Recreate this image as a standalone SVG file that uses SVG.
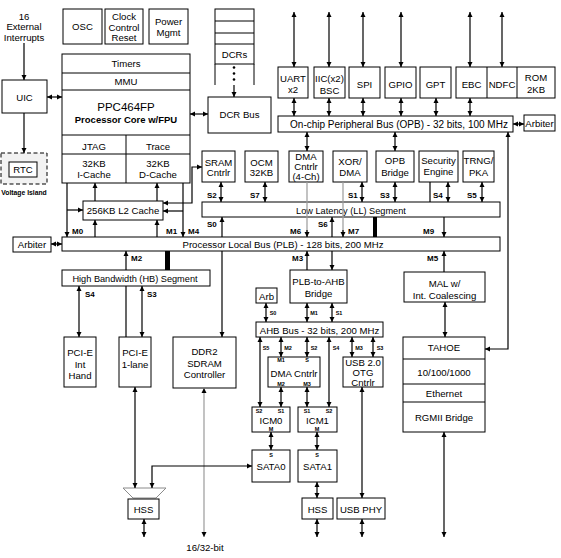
<svg xmlns="http://www.w3.org/2000/svg" width="561" height="558" viewBox="0 0 561 558">
<defs>
<marker id="a" viewBox="0 0 10 10" refX="10" refY="5" markerWidth="5" markerHeight="5.5" orient="auto-start-reverse" markerUnits="userSpaceOnUse"><path d="M0,0L10,5L0,10z" fill="#000"/></marker>
<style>
.b{fill:#fff;stroke:#000;stroke-width:1}
.n{fill:none;stroke:#000;stroke-width:1}
text{font-family:"Liberation Sans",Arial,sans-serif;fill:#000}
.t{font-size:9.6px;text-anchor:middle}
.lb{font-size:8px;font-weight:bold}
.sm{font-size:5.5px;font-weight:bold;text-anchor:middle}
.c{stroke:#000;stroke-width:1.2;fill:none}
.e{marker-end:url(#a)}
.d{marker-start:url(#a);marker-end:url(#a)}
.g{stroke:#9a9a9a;stroke-width:1.2;fill:none}
</style>
</defs>
<rect width="561" height="558" fill="#fff"/>

<g id="ext-int"><text class="t" x="24" y="19.5">16</text><text class="t" x="24" y="30">External</text><text class="t" x="24" y="40.5">Interrupts</text></g>
<g id="osc"><rect class="b" x="63" y="9" width="39" height="35"/><text class="t" x="82.5" y="30">OSC</text></g>
<g id="ccr"><rect class="b" x="105" y="9" width="38" height="35"/><text class="t" x="124" y="19.5">Clock</text><text class="t" x="124" y="30.5">Control</text><text class="t" x="124" y="41">Reset</text></g>
<g id="pwr"><rect class="b" x="149" y="9" width="39" height="35"/><text class="t" x="168.5" y="24.5">Power</text><text class="t" x="168.5" y="36">Mgmt</text></g>

<g id="cpu">
<rect class="b" x="62" y="54" width="128" height="129"/>
<path class="n" d="M62,73H190M62,90H190M62,135H190M62,154H190M126,135V183"/>
<text class="t" x="126" y="66.5">Timers</text>
<text class="t" x="126" y="84.5">MMU</text>
<text class="t" x="126" y="111" style="font-size:11.5px">PPC464FP</text>
<text class="t" x="126" y="122.5" style="font-weight:bold;font-size:9.5px">Processor Core w/FPU</text>
<text class="t" x="94" y="149.5">JTAG</text><text class="t" x="158" y="149.5">Trace</text>
<text class="t" x="94" y="166.5">32KB</text><text class="t" x="94" y="178">I-Cache</text>
<text class="t" x="158" y="166.5">32KB</text><text class="t" x="158" y="178">D-Cache</text>
</g>

<g id="uic"><rect class="b" x="2" y="80" width="45" height="33"/><text class="t" x="24.5" y="100.5">UIC</text></g>
<g id="rtc"><rect x="1" y="153" width="46" height="31" fill="#f2f2f2" stroke="#000" stroke-width="1" stroke-dasharray="4,2.5"/><rect class="b" x="9" y="162" width="28" height="15"/><text class="t" x="23" y="173">RTC</text><text x="24" y="195" style="font-size:6.8px;font-weight:bold;text-anchor:middle">Voltage Island</text></g>
<g id="l2"><rect class="b" x="83" y="201" width="80" height="19"/><text class="t" x="123" y="214">256KB L2 Cache</text></g>
<g id="arbiter-plb"><rect class="b" x="13" y="237" width="38" height="15"/><text class="t" x="32" y="248">Arbiter</text></g>
<g id="plb"><rect class="b" x="62" y="237" width="438" height="14"/><text class="t" x="283" y="247.5">Processor Local Bus (PLB) - 128 bits, 200 MHz</text></g>
<g id="hb"><rect class="b" x="62" y="270" width="148" height="16"/><text class="t" x="135" y="281.5" style="font-size:9.2px">High Bandwidth (HB) Segment</text></g>
<g id="pcie-int"><rect class="b" x="64" y="337" width="32" height="50"/><text class="t" x="80" y="355.5">PCI-E</text><text class="t" x="80" y="367.5">Int</text><text class="t" x="80" y="378.5">Hand</text></g>
<g id="pcie-1"><rect class="b" x="119" y="337" width="32" height="50"/><text class="t" x="135" y="355.5">PCI-E</text><text class="t" x="135" y="367.5">1-lane</text></g>
<g id="ddr2"><rect class="b" x="173" y="337" width="63" height="51"/><text class="t" x="204.5" y="354.5">DDR2</text><text class="t" x="204.5" y="366.5">SDRAM</text><text class="t" x="204.5" y="377.5">Controller</text></g>
<g id="mux"><polygon points="123,488 166,488 156,498 133,498" fill="#fff" stroke="#8a8a8a" stroke-width="1"/></g>
<g id="hss1"><rect class="b" x="128" y="499" width="31" height="20"/><text class="t" x="143.5" y="513">HSS</text></g>
<g id="ddr-io"><text class="t" x="205" y="550.5">16/32-bit</text></g>

<g id="dcrs"><rect class="b" x="215" y="9" width="39" height="55"/><path class="n" d="M215,21H254M215,33H254M215,44H254M215,64V85M254,64V85"/><text class="t" x="234.5" y="57.5">DCRs</text><circle cx="234" cy="67.5" r="1.3"/><circle cx="234" cy="73.5" r="1.3"/><circle cx="234" cy="79.5" r="1.3"/></g>
<g id="dcrbus"><rect class="b" x="208" y="97" width="63" height="36"/><text class="t" x="239.5" y="118">DCR Bus</text></g>

<g id="uart"><rect class="b" x="278" y="67" width="30" height="31"/><text class="t" x="293" y="81.5">UART</text><text class="t" x="293" y="93">x2</text></g>
<g id="iic"><rect class="b" x="314" y="67" width="31" height="31"/><text class="t" x="329.5" y="81.5">IIC(x2)</text><text class="t" x="329.5" y="94">BSC</text></g>
<g id="spi"><rect class="b" x="349" y="67" width="31" height="31"/><text class="t" x="364.5" y="87.5">SPI</text></g>
<g id="gpio"><rect class="b" x="385" y="67" width="31" height="31"/><text class="t" x="400.5" y="87.5">GPIO</text></g>
<g id="gpt"><rect class="b" x="420" y="67" width="31" height="31"/><text class="t" x="435.5" y="87.5">GPT</text></g>
<g id="ebc-ndfc-rom"><rect class="b" x="456" y="67" width="99" height="31"/><path class="n" d="M487,67V98M517,67V98"/><text class="t" x="471.5" y="87.5">EBC</text><text class="t" x="502" y="87.5">NDFC</text><text class="t" x="536" y="81">ROM</text><text class="t" x="536" y="93">2KB</text></g>
<g id="opb"><rect class="b" x="278" y="116" width="235" height="16"/><text class="t" x="399" y="127.5" style="font-size:10px">On-chip Peripheral Bus (OPB) - 32 bits, 100 MHz</text></g>
<g id="arbiter-opb"><rect class="b" x="524" y="115" width="31" height="16"/><text class="t" x="539.5" y="127">Arbiter</text></g>

<g id="sram"><rect class="b" x="202" y="151" width="33" height="31"/><text class="t" x="218.5" y="165.5">SRAM</text><text class="t" x="218.5" y="175.5">Cntrlr</text></g>
<g id="ocm"><rect class="b" x="245" y="151" width="33" height="31"/><text class="t" x="261.5" y="165.5">OCM</text><text class="t" x="261.5" y="175.5">32KB</text></g>
<g id="dma4"><rect class="b" x="289" y="151" width="34" height="31"/><text class="t" x="306" y="160">DMA</text><text class="t" x="306" y="169.5">Cntrlr</text><text class="t" x="306" y="179.5">(4-Ch)</text></g>
<g id="xor"><rect class="b" x="333" y="151" width="34" height="31"/><text class="t" x="350" y="165">XOR/</text><text class="t" x="350" y="175.5">DMA</text></g>
<g id="opbbridge"><rect class="b" x="376" y="151" width="38" height="31"/><text class="t" x="395" y="164">OPB</text><text class="t" x="395" y="175.5">Bridge</text></g>
<g id="security"><rect class="b" x="419" y="151" width="39" height="31"/><text class="t" x="438.5" y="164">Security</text><text class="t" x="438.5" y="175">Engine</text></g>
<g id="trng"><rect class="b" x="463" y="151" width="31" height="31"/><text class="t" x="478.5" y="164">TRNG/</text><text class="t" x="478.5" y="175.5">PKA</text></g>
<g id="ll"><rect class="b" x="202" y="202" width="298" height="15"/><text class="t" x="351" y="213.5" style="font-size:9.2px">Low Latency (LL) Segment</text></g>

<g id="bridge"><rect class="b" x="290" y="270" width="57" height="33"/><text class="t" x="318.5" y="284.5">PLB-to-AHB</text><text class="t" x="318.5" y="296.5">Bridge</text></g>
<g id="arb"><rect class="b" x="256" y="288" width="21" height="15"/><text class="t" x="266.5" y="299.5">Arb</text></g>
<g id="ahb"><rect class="b" x="256" y="322" width="127" height="15"/><text class="t" x="319.5" y="333.5">AHB Bus - 32 bits, 200 MHz</text></g>
<g id="dma"><rect class="b" x="268" y="357" width="52" height="30"/><text class="t" x="294" y="376.5">DMA Cntrlr</text><text class="sm" x="281" y="362">M1</text><text class="sm" x="307" y="362">S</text><text class="sm" x="281" y="385.5">M2</text><text class="sm" x="307" y="385.5">M3</text></g>
<g id="usbotg"><rect class="b" x="343" y="357" width="40" height="30"/><text class="t" x="363" y="365.5">USB 2.0</text><text class="t" x="363" y="375.5">OTG</text><text class="t" x="363" y="386">Cntrlr</text></g>
<g id="icm0"><rect class="b" x="252" y="407" width="38" height="25"/><text class="t" x="271" y="424">ICM0</text><text class="sm" x="259" y="412.5">S2</text><text class="sm" x="281" y="412.5">S1</text><text class="sm" x="271" y="430.5">M</text></g>
<g id="icm1"><rect class="b" x="298" y="407" width="39" height="25"/><text class="t" x="317.5" y="424">ICM1</text><text class="sm" x="307" y="412.5">S1</text><text class="sm" x="329" y="412.5">S2</text><text class="sm" x="317" y="430.5">M</text></g>
<g id="sata0"><rect class="b" x="252" y="450" width="38" height="32"/><text class="sm" x="271" y="457">S</text><text class="t" x="271" y="469.5">SATA0</text></g>
<g id="sata1"><rect class="b" x="298" y="450" width="39" height="32"/><text class="sm" x="317" y="457">S</text><text class="t" x="317.5" y="469.5">SATA1</text></g>
<g id="hss2"><rect class="b" x="302" y="498" width="31" height="21"/><text class="t" x="317.5" y="512.5">HSS</text></g>
<g id="usbphy"><rect class="b" x="337" y="498" width="48" height="21"/><text class="t" x="361" y="512.5">USB PHY</text></g>

<g id="mal"><rect class="b" x="404" y="272" width="81" height="30"/><text class="t" x="444.5" y="286.5">MAL w/</text><text class="t" x="444.5" y="298.5">Int. Coalescing</text></g>
<g id="tahoe"><rect class="b" x="403" y="337" width="82" height="95"/><path class="n" d="M403,359H485M403,384H485M403,402H485"/><text class="t" x="444" y="351">TAHOE</text><text class="t" x="444" y="375.5">10/100/1000</text><text class="t" x="444" y="396.5">Ethernet</text><text class="t" x="444" y="420.5">RGMII Bridge</text></g>

<g id="connectors">
<path class="c e" d="M24,43V80"/>
<path class="c e" d="M24,113V153"/>
<path class="c d" d="M47,97H62"/>
<path class="c d" d="M190,114H208"/>
<path class="c e" d="M234,85V97"/>
<path class="c d" d="M51,244H62"/>
<path class="c e" d="M67,183V237"/>
<path class="c e" d="M67,210H83"/>
<path class="c e" d="M183,183V237"/>
<path class="c e" d="M183,211H163"/>
<path class="c d" d="M202,167H192V203H163"/>
<path class="c e" d="M95,201V183"/>
<path class="c e" d="M157,201V183"/>
<path class="c e" d="M95,237V220"/>
<path class="c e" d="M157,237V220"/>
<rect x="165" y="251" width="5" height="19" fill="#000"/>
<path class="c e" d="M126,270V251"/>
<path class="c" d="M126,286V337"/>
<path class="c d" d="M79,286V337"/>
<path class="c d" d="M142,286V337"/>
<path class="c e" d="M222,251V337"/>
<path class="g d" d="M204,388V537"/>
<path class="c d" d="M135,387V488"/>
<path class="c d" d="M152,488V466H252"/>
<path class="c d" d="M144,519V537"/>
<path class="c d" d="M294,12V67"/><path class="c d" d="M329,12V67"/><path class="c d" d="M363,12V67"/><path class="c d" d="M401,12V67"/><path class="c d" d="M470,12V67"/><path class="c d" d="M502,12V67"/>
<path class="c d" d="M294,98V116"/><path class="c d" d="M329,98V116"/><path class="c d" d="M363,98V116"/><path class="c d" d="M401,98V116"/><path class="c d" d="M436,98V116"/><path class="c d" d="M470,98V116"/>
<path class="c d" d="M513,124H524"/>
<path class="c d" d="M307,132V151"/>
<path class="c d" d="M395,132V151"/>
<path class="c d" d="M485,349H508V132"/>
<path class="c d" d="M221,182V202"/>
<path class="c d" d="M265,182V202"/>
<path class="g" d="M307,182V232"/><path class="c e" d="M307,230V237"/>
<path class="g" d="M343,182V232"/><path class="c e" d="M343,230V237"/>
<path class="c d" d="M362,182V202"/>
<path class="c d" d="M395,182V202"/>
<path class="c" d="M430,182V202"/>
<path class="c d" d="M448,182V202"/>
<path class="c d" d="M482,182V202"/>
<path class="c e" d="M222,237V217"/>
<path class="c e" d="M332,237V217"/>
<rect x="373" y="217" width="4" height="20" fill="#000"/>
<path class="c e" d="M444,217V237"/>
<path class="c e" d="M444,272V251"/>
<path class="c e" d="M307,270V251"/>
<path class="c e" d="M332,251V270"/>
<path class="c d" d="M266,303V322"/>
<path class="c d" d="M307,303V322"/>
<path class="c d" d="M332,303V322"/>
<path class="c d" d="M260,337V407"/>
<path class="c d" d="M281,337V357"/>
<path class="c d" d="M307,337V357"/>
<path class="c d" d="M329,337V407"/>
<path class="c d" d="M352,337V357"/>
<path class="c d" d="M373,337V357"/>
<path class="c d" d="M281,387V407"/>
<path class="c d" d="M307,387V407"/>
<path class="c d" d="M271,432V450"/>
<path class="c d" d="M317,432V450"/>
<path class="c d" d="M317,482V498"/>
<path class="c d" d="M317,519V537"/>
<path class="c d" d="M362,387V498"/>
<path class="c d" d="M362,519V537"/>
<path class="c d" d="M445,302V337"/>
<path class="c d" d="M444,432V537"/>
<g id="labels">
<text class="lb" x="72" y="234">M0</text>
<text class="lb" x="166" y="234">M1</text>
<text class="lb" x="188" y="234">M4</text>
<text class="lb" x="131" y="261">M2</text>
<text class="lb" x="85" y="297">S4</text>
<text class="lb" x="147" y="297">S3</text>
<text class="lb" x="207" y="198">S2</text>
<text class="lb" x="250" y="198">S7</text>
<text class="lb" x="348" y="198">S1</text>
<text class="lb" x="380" y="198">S3</text>
<text class="lb" x="433" y="198">S4</text>
<text class="lb" x="467" y="198">S5</text>
<text class="lb" x="207" y="227">S0</text>
<text class="lb" x="318" y="227">S6</text>
<text class="lb" x="290" y="234">M6</text>
<text class="lb" x="348" y="234">M7</text>
<text class="lb" x="423" y="234">M9</text>
<text class="lb" x="292" y="261">M3</text>
<text class="lb" x="427" y="261">M5</text>
<text class="sm" x="273" y="315">S0</text>
<text class="sm" x="314" y="315">M1</text>
<text class="sm" x="339" y="315">S1</text>
<text class="sm" x="266" y="350">S5</text>
<text class="sm" x="288" y="350">M2</text>
<text class="sm" x="314" y="350">S2</text>
<text class="sm" x="336" y="350">S4</text>
<text class="sm" x="359" y="350">M3</text>
<text class="sm" x="380" y="350">S3</text>
</g>
</g>
</svg>
